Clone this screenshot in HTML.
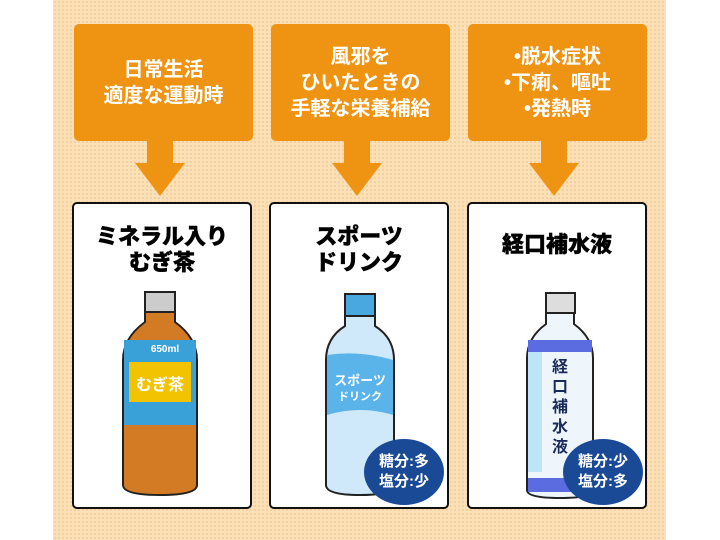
<!DOCTYPE html>
<html><head><meta charset="utf-8"><style>
body{margin:0;width:720px;height:540px;background:#fff;position:relative;overflow:hidden;font-family:"Liberation Sans","Noto Sans CJK JP",sans-serif}
.bg{position:absolute;left:53px;top:0;width:613px;height:540px;background:#fbe0b8;background-image:radial-gradient(#f5cf9a 1px,transparent 1.2px);background-size:4px 4px}
.ob{position:absolute;top:24px;width:179px;height:117px;background:#ef9412;border-radius:5px;color:#fff;font-weight:bold;font-size:20px;line-height:26px;display:flex;align-items:center;justify-content:center;text-align:center}
.st{position:absolute;top:140px;width:26px;height:24px;background:#ef9412}
.hd{position:absolute;top:163px;width:0;height:0;border-left:25px solid transparent;border-right:25px solid transparent;border-top:33px solid #ef9412}
.pn{position:absolute;top:202px;width:176px;height:303px;background:#fff;border:2.5px solid #111;border-radius:5px}
.tt{position:absolute;top:20px;left:0;width:100%;text-align:center;font-weight:900;font-size:22px;line-height:26px;color:#000;-webkit-text-stroke:0.4px #000}
.cl{position:absolute;width:80px;height:66px;border-radius:50%;background:#1a4a95;color:#fff;font-weight:bold;font-size:15px;line-height:20px;display:flex;align-items:center;justify-content:center;text-align:center}
svg{position:absolute}
</style></head><body>
<div class="bg"></div>
<div class="ob" style="left:74px">日常生活<br>適度な運動時</div>
<div class="ob" style="left:271px">風邪を<br>ひいたときの<br>手軽な栄養補給</div>
<div class="ob" style="left:468px">•脱水症状<br>•下痢、嘔吐<br>•発熱時</div>
<div class="st" style="left:147px"></div><div class="hd" style="left:135px"></div>
<div class="st" style="left:344px"></div><div class="hd" style="left:332px"></div>
<div class="st" style="left:541px"></div><div class="hd" style="left:529px"></div>

<div class="pn" style="left:72px"><div class="tt">ミネラル入り<br>むぎ茶</div></div>
<div class="pn" style="left:269px"><div class="tt">スポーツ<br>ドリンク</div></div>
<div class="pn" style="left:467px"><div class="tt" style="top:28px">経口補水液</div></div>

<svg style="left:115px;top:290px" width="90" height="210" viewBox="0 0 90 210">
<rect x="30" y="2" width="30" height="20" fill="#ccc" stroke="#222" stroke-width="2"/>
<path d="M30 22 L30 32 Q8 48 8 70 L8 195 Q8 205 45 205 Q82 205 82 195 L82 70 Q82 48 60 32 L60 22Z" fill="#d27a24" stroke="#222" stroke-width="2"/>
<rect x="9" y="50" width="72" height="85" fill="#3aa0d8"/>
<rect x="14" y="72" width="62" height="40" fill="#f2c300"/>
<text x="45" y="100" font-size="16" font-weight="bold" fill="#fff" text-anchor="middle" font-family="Noto Sans CJK JP">むぎ茶</text>
<text x="50" y="62" font-size="10" font-weight="bold" fill="#fff" text-anchor="middle">650ml</text>
</svg>
<svg style="left:320px;top:290px" width="80" height="210" viewBox="0 0 80 210">
<rect x="25" y="4" width="30" height="22" fill="#4aa8e0" stroke="#222" stroke-width="2"/>
<path d="M25 26 L25 36 Q6 48 6 70 L6 195 Q6 205 40 205 Q74 205 74 195 L74 70 Q74 48 55 36 L55 26Z" fill="#cfe9fa" stroke="#222" stroke-width="2"/>
<path d="M7 65 Q40 60 73 70 L73 125 Q40 115 7 125Z" fill="#5ab4ea"/>
<text x="40" y="95" font-size="13" font-weight="bold" fill="#fff" text-anchor="middle" font-family="Noto Sans CJK JP">スポーツ</text>
<text x="40" y="110" font-size="11" font-weight="bold" fill="#fff" text-anchor="middle" font-family="Noto Sans CJK JP">ドリンク</text>
</svg>
<div class="cl" style="left:364px;top:439px">糖分:多<br>塩分:少</div>
<svg style="left:524px;top:290px" width="72" height="212" viewBox="0 0 72 212">
<rect x="22" y="3" width="29" height="20" fill="#ddd" stroke="#222" stroke-width="2"/>
<path d="M22 23 L22 34 Q3 48 3 68 L3 200 Q3 208 36 208 Q69 208 69 200 L69 68 Q69 48 50 34 L50 23Z" fill="#eef6fb" stroke="#222" stroke-width="2"/>
<rect x="4" y="50" width="64" height="12" fill="#5b6be0"/>
<rect x="4" y="188" width="64" height="14" fill="#5b6be0"/>
<rect x="4" y="62" width="14" height="120" fill="#bfe3f7"/>
<text x="36" y="82" font-size="16" font-weight="bold" fill="#1a2a5a" text-anchor="middle" font-family="Noto Sans CJK JP">経</text>
<text x="36" y="102" font-size="16" font-weight="bold" fill="#1a2a5a" text-anchor="middle" font-family="Noto Sans CJK JP">口</text>
<text x="36" y="122" font-size="16" font-weight="bold" fill="#1a2a5a" text-anchor="middle" font-family="Noto Sans CJK JP">補</text>
<text x="36" y="142" font-size="16" font-weight="bold" fill="#1a2a5a" text-anchor="middle" font-family="Noto Sans CJK JP">水</text>
<text x="36" y="162" font-size="16" font-weight="bold" fill="#1a2a5a" text-anchor="middle" font-family="Noto Sans CJK JP">液</text>
</svg>
<div class="cl" style="left:563px;top:439px">糖分:少<br>塩分:多</div>
</body></html>
